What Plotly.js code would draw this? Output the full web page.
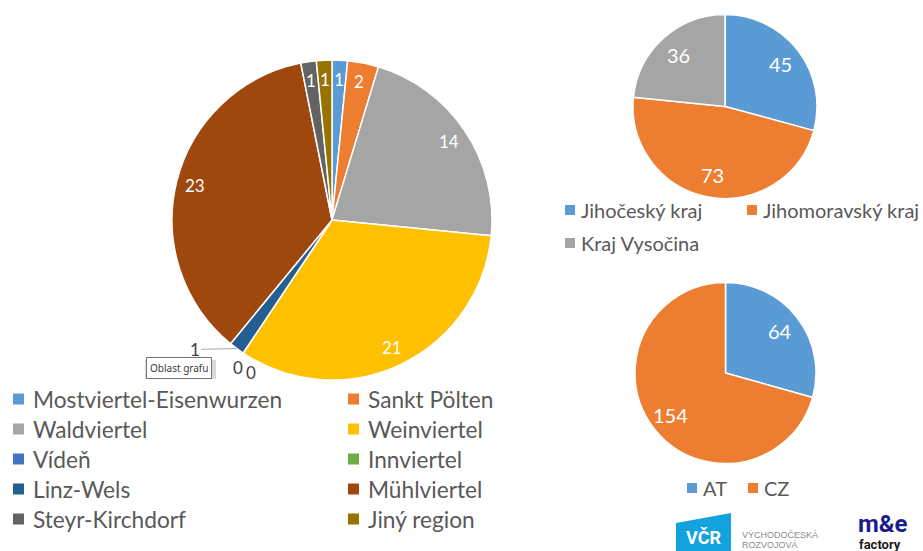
<!DOCTYPE html>
<html><head><meta charset="utf-8">
<script src="https://cdn.plot.ly/plotly-3.0.1.min.js"></script>
<style>html,body{margin:0;padding:0;background:#fff}#chart{width:923px;height:551px}</style>
</head><body><div id="chart"></div>
<script>
// ---------- data ----------
const regionLabels = ['Mostviertel-Eisenwurzen','Sankt Pölten','Waldviertel','Weinviertel','Vídeň','Innviertel','Linz-Wels','Mühlviertel','Steyr-Kirchdorf','Jiný region'];
const regionValues = [1, 2, 14, 21, 0, 0, 1, 23, 1, 1];
const krajLabels = ['Jihočeský kraj','Jihomoravský kraj','Kraj Vysočina'];
const krajValues = [45, 73, 36];
const countryLabels = ['AT','CZ'];
const countryValues = [64, 154];

// ---------- styles ----------
const regionColors = ['#5B9BD5','#ED7D31','#A5A5A5','#FFC000','#4472C4','#70AD47','#255E91','#9E480E','#636363','#997300'];
const krajColors = ['#5B9BD5','#ED7D31','#A5A5A5'];
const countryColors = ['#5B9BD5','#ED7D31'];
const FONT = 'Lato, "Open Sans", sans-serif';
const TXT = '#595959';

const W = 923, H = 551;
const X = p => p / W, Y = p => 1 - p / H;
const geo = {
  main:    {cx: 332,   cy: 220,   r: 160,  frac: 0.88, fs: 17},
  kraj:    {cx: 725,   cy: 106.5, r: 92,   frac: 0.76, fs: 20},
  country: {cx: 725.5, cy: 373,   r: 90.5, frac: 0.76, fs: 20}
};
function domainOf(g) { return {x: [X(g.cx - g.r), X(g.cx + g.r)], y: [Y(g.cy + g.r), Y(g.cy - g.r)]}; }
function pieTrace(labels, values, colors, g) {
  return {type: 'pie', labels: labels, values: values, sort: false, direction: 'clockwise', rotation: 0,
    marker: {colors: colors, line: {color: '#ffffff', width: 1.5}},
    textinfo: 'none', hoverinfo: 'label+value', showlegend: false, domain: domainOf(g)};
}
function angles(values) {
  const tot = values.reduce((a, b) => a + b, 0); let cum = 0;
  return values.map(v => { const a0 = cum / tot * 2 * Math.PI; cum += v; const a1 = cum / tot * 2 * Math.PI; return (a0 + a1) / 2; });
}
const annotations = [], shapes = [];
function insideLabels(values, g, skip) {
  const mids = angles(values);
  values.forEach((v, i) => {
    if (v <= 0 || (skip && skip.includes(i))) return;
    const x = g.cx + g.frac * g.r * Math.sin(mids[i]);
    const y = g.cy - g.frac * g.r * Math.cos(mids[i]);
    annotations.push({xref: 'paper', yref: 'paper', x: X(x), y: Y(y), text: String(v), showarrow: false,
      xanchor: 'center', yanchor: 'middle', font: {family: FONT, size: g.fs, color: '#ffffff'}});
  });
}
insideLabels(regionValues, geo.main, [6]);
insideLabels(krajValues, geo.kraj);
insideLabels(countryValues, geo.country);

// outside labels of main pie (tiny/zero slices)
(function () {
  const g = geo.main, mids = angles(regionValues);
  const edge = i => [g.cx + g.r * Math.sin(mids[i]), g.cy - g.r * Math.cos(mids[i])];
  const e6 = edge(6);
  annotations.push({xref: 'paper', yref: 'paper', x: X(e6[0]), y: Y(e6[1]), text: String(regionValues[6]),
    showarrow: true, arrowhead: 0, arrowwidth: 1, arrowcolor: '#A6A6A6', ax: -42, ay: 1, standoff: 0,
    font: {family: FONT, size: 17, color: '#404040'}});
  const e4 = edge(4), e5 = edge(5);
  annotations.push({xref: 'paper', yref: 'paper', x: X(e4[0]), y: Y(e4[1]), text: String(regionValues[4]),
    showarrow: false, xshift: -12, yshift: -14, font: {family: FONT, size: 17, color: '#404040'}});
  annotations.push({xref: 'paper', yref: 'paper', x: X(e5[0]), y: Y(e5[1]), text: String(regionValues[5]),
    showarrow: false, xshift: 1, yshift: -19, font: {family: FONT, size: 17, color: '#404040'}});
})();

// ---------- legends ----------
function legendItem(label, color, mx, my, size, gap, fs) {
  shapes.push({type: 'rect', xref: 'paper', yref: 'paper', x0: X(mx - size / 2), x1: X(mx + size / 2),
    y0: Y(my + size / 2), y1: Y(my - size / 2), fillcolor: color, line: {width: 0}});
  annotations.push({xref: 'paper', yref: 'paper', x: X(mx + gap - 2), y: Y(my), text: label, showarrow: false,
    xanchor: 'left', yanchor: 'middle', font: {family: FONT, size: fs, color: TXT}});
}
regionLabels.forEach((l, i) => {
  const col = i % 2, row = Math.floor(i / 2);
  legendItem(l, regionColors[i], col ? 353.5 : 18.5, 399 + 30 * row, 11, 14, 22.7);
});
legendItem(krajLabels[0], krajColors[0], 570, 210, 10, 10.5, 20);
legendItem(krajLabels[1], krajColors[1], 752, 210, 10, 10.5, 20);
legendItem(krajLabels[2], krajColors[2], 570, 243, 10, 10.5, 20);
legendItem(countryLabels[0], countryColors[0], 692, 488, 10, 10.5, 20);
legendItem(countryLabels[1], countryColors[1], 753, 488, 10, 10.5, 20);

// ---------- tooltip artifact "Oblast grafu" ----------
shapes.push({type: 'rect', xref: 'paper', yref: 'paper', x0: X(145), x1: X(216), y0: Y(379), y1: Y(360),
  fillcolor: '#d9d9d9', line: {width: 0}});
annotations.push({xref: 'paper', yref: 'paper', x: X(178.5), y: Y(367.5), text: 'Oblast grafu', showarrow: false,
  xanchor: 'center', yanchor: 'middle', bgcolor: '#ffffff', bordercolor: '#767676', borderwidth: 1, borderpad: 3,
  font: {family: '"Noto Sans", sans-serif', size: 10, color: '#3b3b3b'}});

// ---------- logos ----------
shapes.push({type: 'path', xref: 'paper', yref: 'paper',
  path: 'M' + X(676) + ',' + Y(523) + ' L' + X(731) + ',' + Y(513) + ' L' + X(731) + ',' + Y(551) + ' L' + X(676) + ',' + Y(551) + ' Z',
  fillcolor: '#12A3DE', line: {width: 0}});
annotations.push({xref: 'paper', yref: 'paper', x: X(703), y: Y(537), text: '<b>VČR</b>', showarrow: false,
  xanchor: 'center', yanchor: 'middle', font: {family: 'Roboto, sans-serif', size: 18, color: '#ffffff'}});
annotations.push({xref: 'paper', yref: 'paper', x: X(740), y: Y(535), text: 'VÝCHODOČESKÁ', showarrow: false,
  xanchor: 'left', yanchor: 'middle', font: {family: '"Liberation Sans", sans-serif', size: 9, color: '#8c8c8c'}});
annotations.push({xref: 'paper', yref: 'paper', x: X(740), y: Y(545), text: 'ROZVOJOVÁ', showarrow: false,
  xanchor: 'left', yanchor: 'middle', font: {family: '"Liberation Sans", sans-serif', size: 9, color: '#8c8c8c'}});
annotations.push({xref: 'paper', yref: 'paper', x: X(858), y: Y(524), text: '<b>m&amp;e</b>', showarrow: false,
  xanchor: 'left', yanchor: 'middle', borderpad: 0, borderwidth: 0,
  font: {family: 'Roboto, sans-serif', size: 24, color: '#1b1b8f'}});
annotations.push({xref: 'paper', yref: 'paper', x: X(859), y: Y(544), text: '<b>factory</b>', showarrow: false,
  xanchor: 'left', yanchor: 'middle', borderpad: 0, borderwidth: 0,
  font: {family: 'Roboto, sans-serif', size: 13, color: '#1a1a1a'}});

const data = [
  pieTrace(regionLabels, regionValues, regionColors, geo.main),
  pieTrace(krajLabels, krajValues, krajColors, geo.kraj),
  pieTrace(countryLabels, countryValues, countryColors, geo.country)
];
const layout = {
  width: W, height: H, margin: {l: 0, r: 0, t: 0, b: 0},
  paper_bgcolor: '#ffffff', plot_bgcolor: '#ffffff', showlegend: false,
  font: {family: FONT, color: TXT},
  annotations: annotations, shapes: shapes
};
Plotly.newPlot('chart', data, layout, {displayModeBar: false, staticPlot: true});
</script></body></html>
